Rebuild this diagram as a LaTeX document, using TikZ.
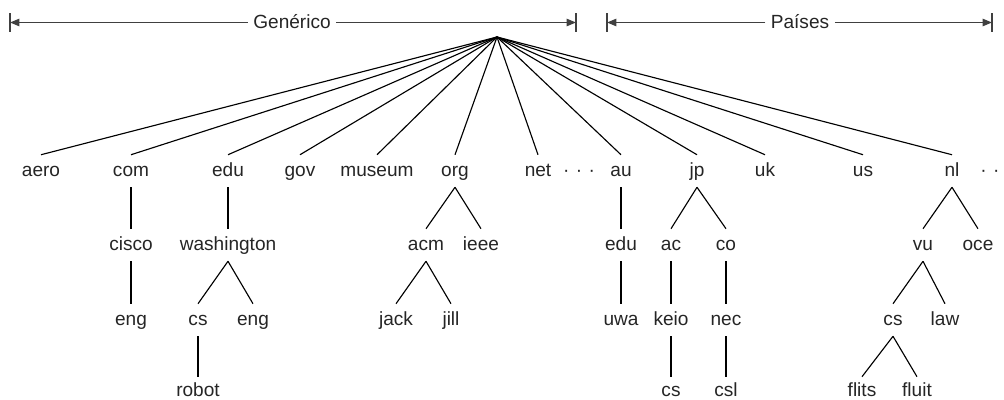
\documentclass[tikz,border=0pt]{standalone}
\usepackage{fontspec}
\setmainfont{Liberation Sans}
\usetikzlibrary{arrows.meta}
\definecolor{ink}{HTML}{252525}
\definecolor{spanink}{HTML}{404040}
\begin{document}
\begin{tikzpicture}[x=0.75pt,y=-0.75pt,
  lbl/.style={font=\fontsize{14.3}{17}\selectfont, text=ink, inner sep=0pt,
              text height=15.75pt, text depth=8.25pt, anchor=base},
  lowlbl/.style={lbl, text height=14.25pt, text depth=2pt},
  spanlbl/.style={font=\fontsize{14.3}{17}\selectfont, text=ink, inner xsep=4pt,
                  inner ysep=0pt, anchor=base},
  treeedge/.style={draw=black, line width=0.85pt},
  spanline/.style={draw=spanink, line width=1.1pt},
  spantip/.style={-{Triangle[length=7pt,width=5.5pt]}}]
\useasboundingbox (0,0) rectangle (1004,400);

% --- domain-group spans ---
\node[spanlbl] (gen) at (292,28) {Genérico};
\node[spanlbl] (pai) at (800,28) {Países};
\coordinate (gL) at (10,22.5);
\coordinate (gR) at (576,22.5);
\coordinate (pL) at (607,22.5);
\coordinate (pR) at (992,22.5);
\draw[spanline,spantip] (gen.west |- gL) -- (gL);
\draw[spanline,spantip] (gen.east |- gR) -- (gR);
\draw[spanline,spantip] (pai.west |- pL) -- (pL);
\draw[spanline,spantip] (pai.east |- pR) -- (pR);
\foreach \c in {gL,gR,pL,pR}
  \draw[spanline] (\c) ++(0,-9.5) -- ++(0,19);

% --- root ---
\coordinate (root) at (497,37);

% --- top-level domains ---
\node[lbl] (aero)   at (41,176)  {aero};
\node[lbl] (com)    at (131,176) {com};
\node[lbl] (edu)    at (228,176) {edu};
\node[lbl] (gov)    at (300,176) {gov};
\node[lbl] (museum) at (377,176) {museum};
\node[lbl] (org)    at (455,176) {org};
\node[lbl] (net)    at (538,176) {net};
\node[lbl] (dotsA)  at (579,176) {·\,\,·\,\,·};
\node[lbl] (au)     at (621,176) {au};
\node[lbl] (jp)     at (697,176) {jp};
\node[lbl] (uk)     at (765,176) {uk};
\node[lbl] (us)     at (863,176) {us};
\node[lbl] (nl)     at (952,176) {nl};
\node[lbl] (dotsB)  at (990,176) {·\,\,·};

% --- second level ---
\node[lbl] (cisco) at (131,250) {cisco};
\node[lbl] (wash)  at (228,250) {washington};
\node[lbl] (acm)   at (426,250) {acm};
\node[lbl] (ieee)  at (481,250) {ieee};
\node[lbl] (eduau) at (621,250) {edu};
\node[lbl] (ac)    at (671,250) {ac};
\node[lbl] (co)    at (726,250) {co};
\node[lbl] (vu)    at (923,250) {vu};
\node[lbl] (oce)   at (978,250) {oce};

% --- third level ---
\node[lbl] (engA)  at (131,325) {eng};
\node[lbl] (csW)   at (198,325) {cs};
\node[lbl] (engW)  at (253,325) {eng};
\node[lbl] (jack)  at (396,325) {jack};
\node[lbl] (jill)  at (451,325) {jill};
\node[lbl] (uwa)   at (621,325) {uwa};
\node[lbl] (keio)  at (671,325) {keio};
\node[lbl] (nec)   at (726,325) {nec};
\node[lbl] (csV)   at (893,325) {cs};
\node[lbl] (law)   at (945,325) {law};

% --- fourth level (leaves at the bottom edge) ---
\node[lowlbl] (robot) at (198,396) {robot};
\node[lowlbl] (csK)   at (671,396) {cs};
\node[lowlbl] (csl)   at (726,396) {csl};
\node[lowlbl] (flits) at (862,396) {flits};
\node[lowlbl] (fluit) at (917,396) {fluit};

% --- edges ---
\foreach \t in {aero,com,edu,gov,museum,org,net,au,jp,uk,us,nl}
  \draw[treeedge] (root) -- (\t.north);
\foreach \p/\c in {com/cisco, cisco/engA, edu/wash, wash/csW, wash/engW, csW/robot,
                   org/acm, org/ieee, acm/jack, acm/jill,
                   au/eduau, eduau/uwa, jp/ac, jp/co, ac/keio, keio/csK, co/nec, nec/csl,
                   nl/vu, nl/oce, vu/csV, vu/law, csV/flits, csV/fluit}
  \draw[treeedge] (\p.south) -- (\c.north);
\end{tikzpicture}
\end{document}
